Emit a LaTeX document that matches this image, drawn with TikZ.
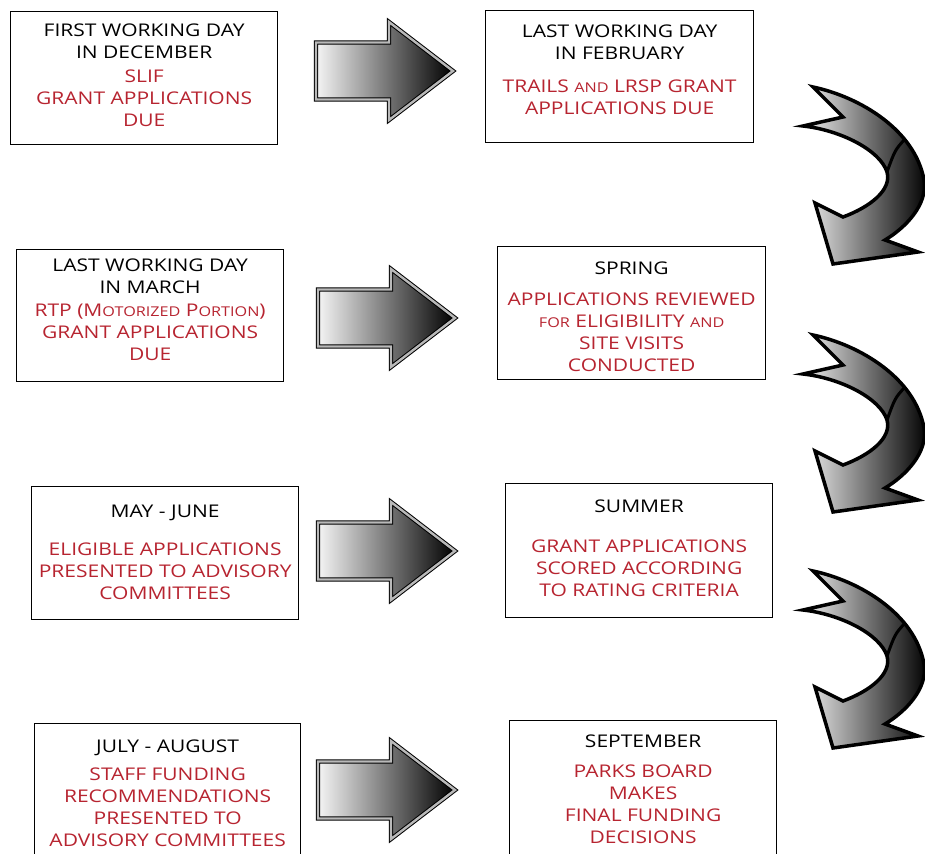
\documentclass[tikz,border=0pt]{standalone}
\usepackage{fontspec}
\setmainfont{Open Sans}[FakeStretch=1.2]
\usetikzlibrary{positioning}
\definecolor{duered}{RGB}{183,36,48}
\newcommand{\smc}[1]{{\fontsize{13.5}{22}\selectfont #1}}

\tikzset{
  stepbox/.style={draw, line width=1.3pt, minimum width=267, minimum height=133, anchor=north west},
  headtxt/.style={anchor=north, align=center, inner sep=0pt, font=\fontsize{17.5}{22}\selectfont},
  bodytxt/.style={headtxt, text=duered},
  pics/flatarrow/.style={code={
    \shade[left color=gray!8, right color=black, draw=black, line width=1pt,
           double=gray!55, double distance=2.4pt, line join=miter]
      (0,-28.5) -- (73,-28.5) -- (73,-49) -- (137,0) -- (73,49) -- (73,28.5) -- (0,28.5) -- cycle;
  }},
  pics/bendarrow/.style={code={
    \shade[left color=gray!12, right color=black, draw=black, line width=3.5pt, line join=miter]
      (0,0) .. controls (47,10) and (102,43) .. (111,93)
      .. controls (115,118) and (92,141) .. (72,153)
      -- (105,165) -- (20,177) -- (2,116) -- (30,130)
      .. controls (57,120) and (79,103) .. (74,85)
      .. controls (67,63) and (27,43) .. (-10,39)
      -- (30,30) -- cycle;
    \draw[line width=3pt] (92,52) .. controls (82,63) .. (74,85);
  }}
}

\begin{document}
\begin{tikzpicture}[x=1pt, y=-1pt]
    \useasboundingbox (0,0) rectangle (925,853);

    % December
    \node[stepbox] (dec) at (10,11) {};
    \node[headtxt, below=13pt of dec.north] (dech) {FIRST WORKING DAY\\IN DECEMBER};
    \node[bodytxt, below=10pt of dech] (decb) {SLIF\\GRANT APPLICATIONS\\DUE};

    % February
    \node[stepbox, minimum width=268, minimum height=132] (feb) at (485,10) {};
    \node[headtxt, below=15pt of feb.north] (febh) {LAST WORKING DAY\\IN FEBRUARY};
    \node[bodytxt, below=19pt of febh] (febb) {TRAILS \smc{AND} LRSP GRANT\\APPLICATIONS DUE};

    % March
    \node[stepbox, minimum height=132] (mar) at (16,249) {};
    \node[headtxt, below=10pt of mar.north] (marh) {LAST WORKING DAY\\IN MARCH};
    \node[bodytxt, below=10pt of marh] (marb) {RTP (M\smc{OTORIZED} P\smc{ORTION})\\GRANT APPLICATIONS\\DUE};

    % Spring
    \node[stepbox, minimum width=268] (spr) at (497,246) {};
    \node[headtxt, below=16pt of spr.north] (sprh) {SPRING};
    \node[bodytxt, below=17pt of sprh] (sprb) {APPLICATIONS REVIEWED\\\smc{FOR} ELIGIBILITY \smc{AND}\\SITE VISITS\\CONDUCTED};

    % May - June
    \node[stepbox] (may) at (31,486) {};
    \node[headtxt, below=19pt of may.north] (mayh) {MAY - JUNE};
    \node[bodytxt, below=21pt of mayh] (mayb) {ELIGIBLE APPLICATIONS\\PRESENTED TO ADVISORY\\COMMITTEES};

    % Summer
    \node[stepbox, minimum height=134] (sum) at (505,483) {};
    \node[headtxt, below=17pt of sum.north] (sumh) {SUMMER};
    \node[bodytxt, below=26pt of sumh] (sumb) {GRANT APPLICATIONS\\SCORED ACCORDING\\TO RATING CRITERIA};

    % July - August
    \node[stepbox, minimum width=266, minimum height=150] (jul) at (34,723) {};
    \node[headtxt, below=17pt of jul.north] (julh) {JULY - AUGUST};
    \node[bodytxt, below=11pt of julh] (julb) {STAFF FUNDING\\RECOMMENDATIONS\\PRESENTED TO\\ADVISORY COMMITTEES};

    % September
    \node[stepbox, minimum height=150] (sep) at (509,720) {};
    \node[headtxt, below=15pt of sep.north] (seph) {SEPTEMBER};
    \node[bodytxt, below=16pt of seph] (sepb) {PARKS BOARD\\MAKES\\FINAL FUNDING\\DECISIONS};

    % straight arrows
    \pic at (316,71) {flatarrow};
    \pic at (318,318) {flatarrow};
    \pic at (318,551) {flatarrow};
    \pic at (318,790) {flatarrow};

    % bent arrows
    \pic at (813,87) {bendarrow};
    \pic at (813,335) {bendarrow};
    \pic at (813,571) {bendarrow};
\end{tikzpicture}
\end{document}
